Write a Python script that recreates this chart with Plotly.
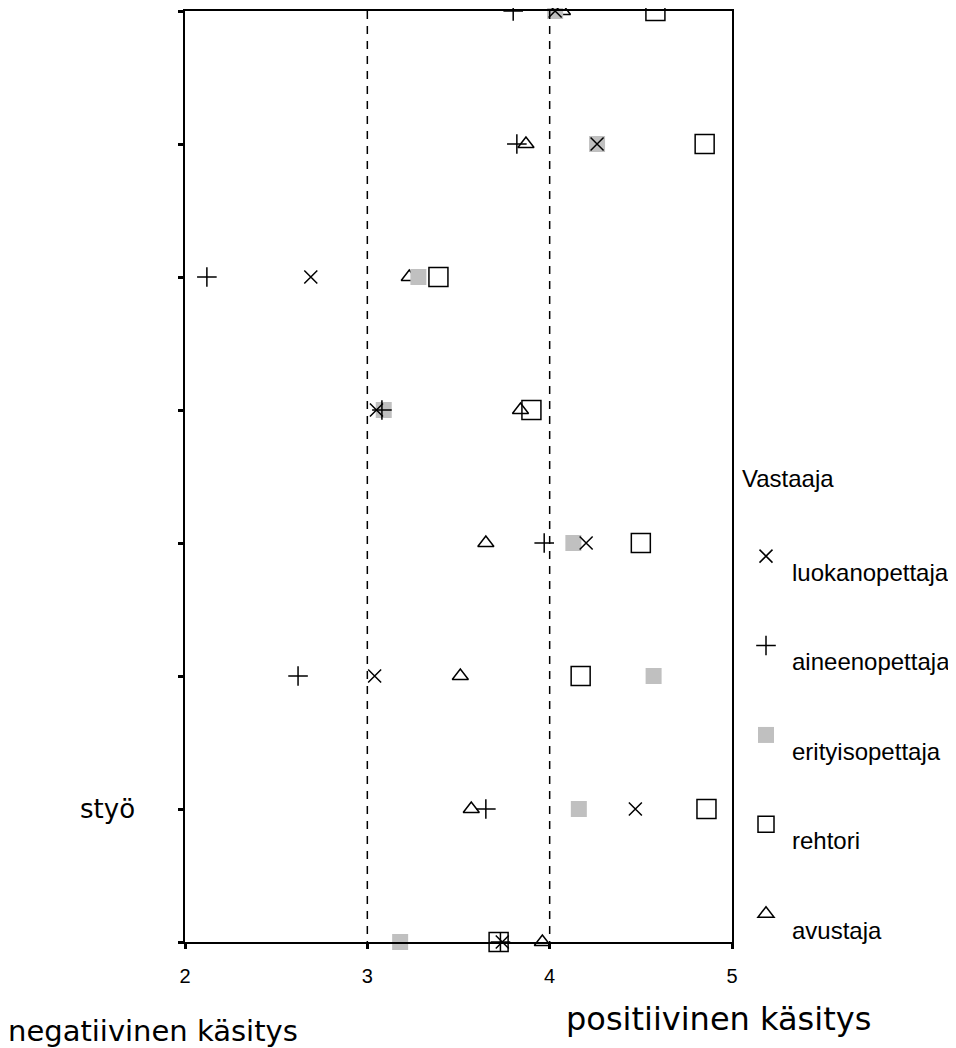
import plotly.graph_objects as go

# Row positions (0 = top row, 7 = bottom row)
rows = [0, 1, 2, 3, 4, 5, 6, 7]
row_label_visible = {6: "styö"}

x_ticks = [2, 3, 4, 5]

luokanopettaja = [4.03, 4.26, 2.69, 3.05, 4.20, 3.04, 4.47, 3.74]
aineenopettaja = [3.80, 3.82, 2.12, 3.08, 3.97, 2.62, 3.65, 3.73]
erityisopettaja = [4.03, 4.26, 3.28, 3.09, 4.13, 4.57, 4.16, 3.18]
rehtori = [4.58, 4.85, 3.39, 3.90, 4.50, 4.17, 4.86, 3.72]
avustaja = [4.07, 3.87, 3.23, 3.84, 3.65, 3.51, 3.57, 3.96]

BLACK = "#000000"
GREY = "#c0c0c0"
FONT = "Liberation Sans, Arial, sans-serif"
FONT2 = "DejaVu Sans, Verdana, sans-serif"

fig = go.Figure()

# draw order: triangle, grey square, open square, x, plus
fig.add_trace(go.Scatter(
    x=avustaja, y=rows, mode="markers", name=" <br>avustaja",
    legendrank=5, legendgroup="e",
    marker=dict(symbol="triangle-up-open", size=14, color=BLACK,
                line=dict(width=1.5, color=BLACK)),
    cliponaxis=False))
fig.add_trace(go.Scatter(
    x=erityisopettaja, y=rows, mode="markers", name=" <br>erityisopettaja",
    legendrank=3, legendgroup="c",
    marker=dict(symbol="square", size=16, color=GREY, line=dict(width=0)),
    cliponaxis=False))
fig.add_trace(go.Scatter(
    x=rehtori, y=rows, mode="markers", name=" <br>rehtori",
    legendrank=4, legendgroup="d",
    marker=dict(symbol="square-open", size=19, color=BLACK,
                line=dict(width=1.5, color=BLACK)),
    cliponaxis=False))
fig.add_trace(go.Scatter(
    x=luokanopettaja, y=rows, mode="markers", name=" <br>luokanopettaja",
    legendrank=1, legendgroup="a",
    marker=dict(symbol="x-thin-open", size=13, color=BLACK,
                line=dict(width=1.5, color=BLACK)),
    cliponaxis=False))
fig.add_trace(go.Scatter(
    x=aineenopettaja, y=rows, mode="markers", name=" <br>aineenopettaja",
    legendrank=2, legendgroup="b",
    marker=dict(symbol="cross-thin-open", size=14, color=BLACK,
                line=dict(width=1.5, color=BLACK)),
    cliponaxis=False))

for xv in [3, 4]:
    fig.add_shape(type="line", x0=xv, x1=xv, y0=0, y1=7, xref="x", yref="y",
                  line=dict(color=BLACK, width=1.5, dash="8px,7px"))

fig.add_annotation(text="negatiivinen käsitys", xref="paper", yref="paper",
                   x=(6 - 185) / 547, y=(942 - 1031) / 933, xanchor="left", yanchor="middle",
                   showarrow=False, font=dict(family=FONT2, size=29, color=BLACK))
fig.add_annotation(text="positiivinen käsitys", xref="paper", yref="paper",
                   x=(564 - 185) / 547, y=(942 - 1019) / 933, xanchor="left", yanchor="middle",
                   showarrow=False, font=dict(family=FONT2, size=32, color=BLACK))
for r, t in row_label_visible.items():
    fig.add_annotation(text=t, xref="paper", yref="y",
                       x=(137 - 185) / 547, y=r, xanchor="right", yanchor="middle",
                       showarrow=False, font=dict(family=FONT2, size=26, color=BLACK))

fig.update_layout(
    width=956, height=1048,
    margin=dict(l=177, r=232, t=1, b=114),
    paper_bgcolor="white", plot_bgcolor="white",
    font=dict(family=FONT, color=BLACK),
    showlegend=True,
    legend=dict(
        title=dict(text="Vastaaja<br> ", font=dict(family=FONT, size=24, color=BLACK)),
        x=(740 - 185) / 547, xanchor="left", y=(942 - 455) / 933, yanchor="top",
        font=dict(family=FONT, size=24, color=BLACK),
        tracegroupgap=24, bgcolor="rgba(0,0,0,0)", itemsizing="trace",
        itemwidth=42,
    ),
    xaxis=dict(range=[2, 5], tickvals=x_ticks, ticktext=[str(v) for v in x_ticks],
               showgrid=False, zeroline=False, showline=True, linecolor=BLACK,
               linewidth=1.5, mirror=True, ticks="outside", ticklen=5, tickwidth=3,
               tickcolor=BLACK, tickfont=dict(family=FONT, size=20, color=BLACK),
               ticklabelstandoff=10),
    yaxis=dict(range=[7, 0], tickvals=rows, showticklabels=False,
               showgrid=False, zeroline=False, showline=True, linecolor=BLACK,
               linewidth=1.5, mirror=True, ticks="outside", ticklen=5, tickwidth=3,
               tickcolor=BLACK),
)

fig.write_html("out.html")
